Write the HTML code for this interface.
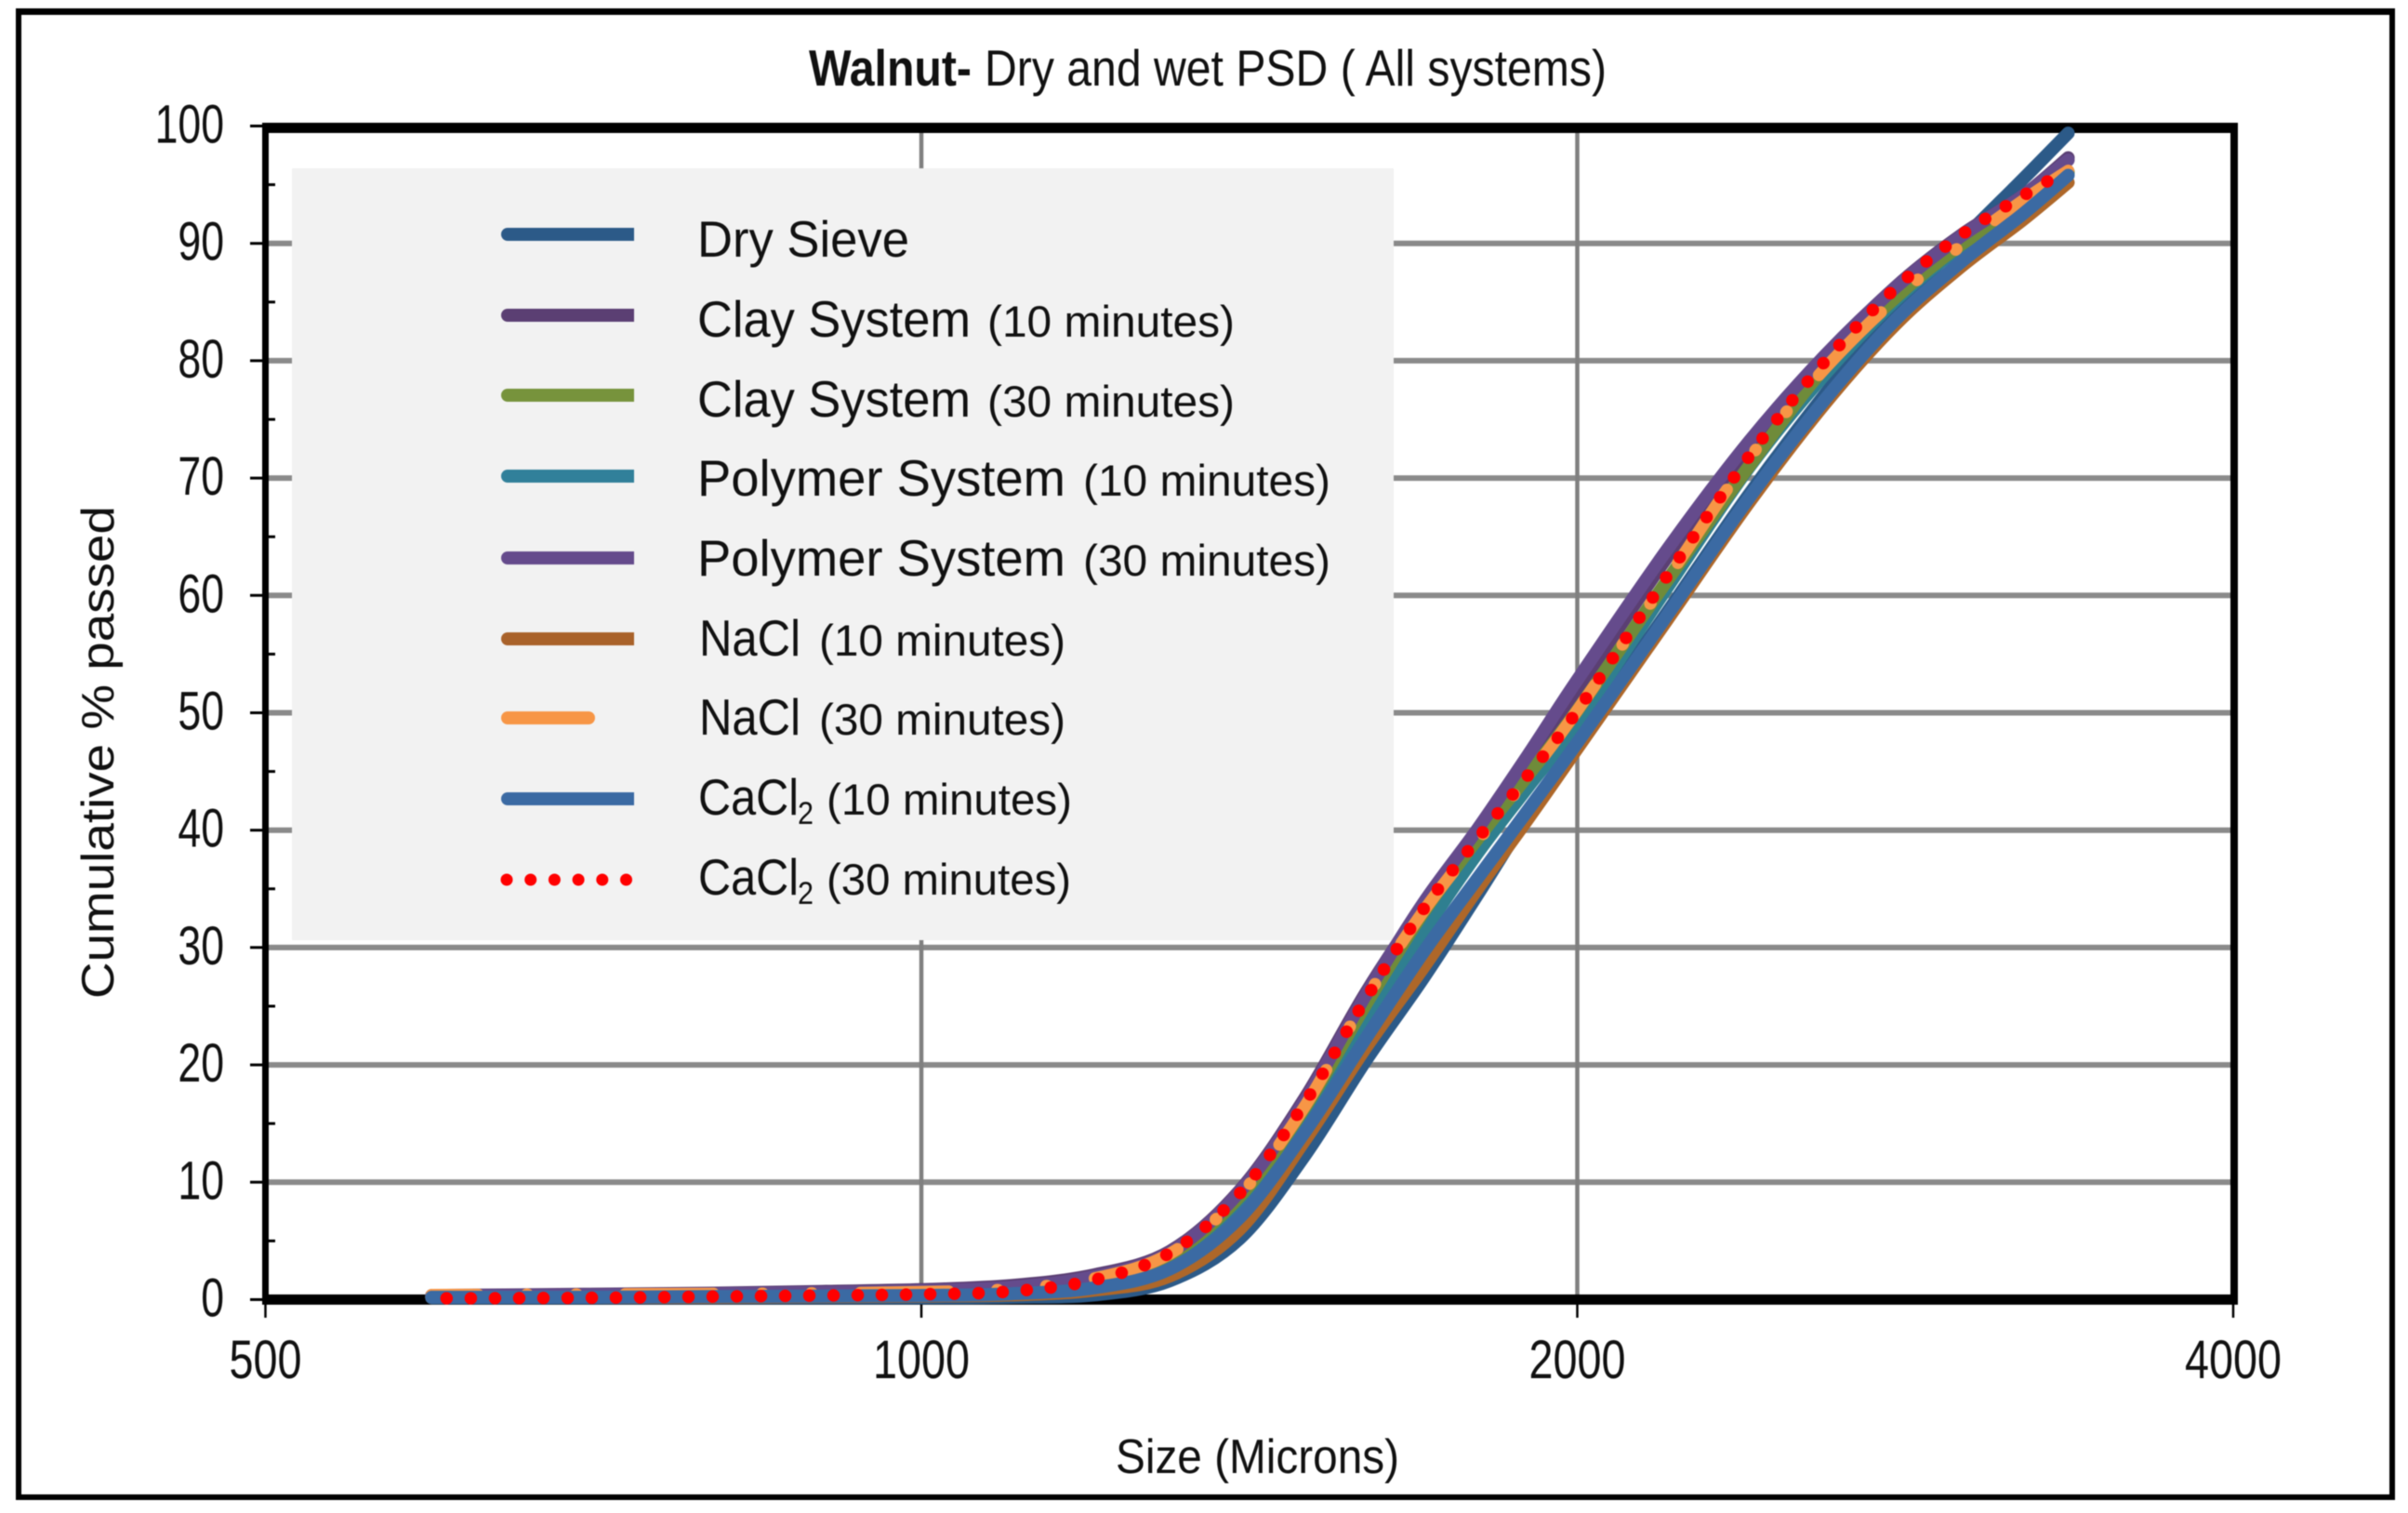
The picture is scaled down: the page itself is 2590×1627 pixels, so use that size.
<!DOCTYPE html>
<html lang="en">
<head>
<meta charset="utf-8">
<title>Walnut - Dry and wet PSD (All systems)</title>
<style>
html,body{margin:0;padding:0;background:#fff;}
body{width:2590px;height:1627px;overflow:hidden;}
svg{display:block;filter:blur(0.6px);}
text{font-family:"Liberation Sans",Arial,sans-serif;fill:#111;}
</style>
</head>
<body>
<svg id="chart" xmlns="http://www.w3.org/2000/svg" width="2590" height="1627" viewBox="0 0 2590 1627">
  <rect x="0" y="0" width="2590" height="1627" fill="#fff"/>
  <g fill="#000">
    <rect x="17" y="9" width="6" height="1604"/>
    <rect x="17" y="9" width="2559" height="7"/>
    <rect x="2570" y="9" width="6" height="1604"/>
    <rect x="17" y="1607" width="2559" height="6"/>
  </g>
  <text x="870" y="92" font-size="55" font-weight="700" textLength="175" lengthAdjust="spacingAndGlyphs">Walnut-</text>
  <text x="1059" y="92" font-size="55" textLength="669" lengthAdjust="spacingAndGlyphs">Dry and wet PSD ( All systems)</text>
  <text x="1200" y="1584" font-size="52" textLength="305" lengthAdjust="spacingAndGlyphs">Size (Microns)</text>
  <text transform="translate(122 1074) rotate(-90)" font-size="49" textLength="530" lengthAdjust="spacingAndGlyphs">Cumulative % passed</text>

  <g id="grid"></g>
  <g id="axis-frame" fill="#000">
    <rect x="282" y="132" width="7" height="1271"/>
    <rect x="2399" y="132" width="8" height="1271"/>
    <rect x="282" y="132" width="2125" height="11"/>
    <rect x="282" y="1392" width="2125" height="11"/>
  </g>
  <g id="ticks"></g>

  <g>
    <rect x="314" y="181" width="1185" height="830" fill="#f2f2f2"/>

    <path d="M546 245H682V259H546a7 7 0 0 1 0-14z" fill="#2c5a88"/>
    <text x="750" y="276" font-size="55" textLength="228" lengthAdjust="spacingAndGlyphs">Dry Sieve</text>

    <path d="M546 332H682V346H546a7 7 0 0 1 0-14z" fill="#5b3f73"/>
    <text x="750" y="362" font-size="55" textLength="294" lengthAdjust="spacingAndGlyphs">Clay System</text>
    <text x="1062" y="362" font-size="47" textLength="266" lengthAdjust="spacingAndGlyphs">(10 minutes)</text>

    <path d="M546 418H682V432H546a7 7 0 0 1 0-14z" fill="#77933c"/>
    <text x="750" y="448" font-size="55" textLength="294" lengthAdjust="spacingAndGlyphs">Clay System</text>
    <text x="1062" y="448" font-size="47" textLength="266" lengthAdjust="spacingAndGlyphs">(30 minutes)</text>

    <path d="M546 505H682V519H546a7 7 0 0 1 0-14z" fill="#31809a"/>
    <text x="750" y="533" font-size="55" textLength="396" lengthAdjust="spacingAndGlyphs">Polymer System</text>
    <text x="1165" y="533" font-size="47" textLength="266" lengthAdjust="spacingAndGlyphs">(10 minutes)</text>

    <path d="M546 593H682V607H546a7 7 0 0 1 0-14z" fill="#654b8c"/>
    <text x="750" y="619" font-size="55" textLength="396" lengthAdjust="spacingAndGlyphs">Polymer System</text>
    <text x="1165" y="619" font-size="47" textLength="266" lengthAdjust="spacingAndGlyphs">(30 minutes)</text>

    <path d="M546 680H682V694H546a7 7 0 0 1 0-14z" fill="#a9622a"/>
    <text x="752" y="705" font-size="55" textLength="109" lengthAdjust="spacingAndGlyphs">NaCl</text>
    <text x="881" y="705" font-size="47" textLength="265" lengthAdjust="spacingAndGlyphs">(10 minutes)</text>

    <path d="M546 765H633a7 7 0 0 1 0 14H546a7 7 0 0 1 0-14z" fill="#f79646"/>
    <text x="752" y="790" font-size="55" textLength="109" lengthAdjust="spacingAndGlyphs">NaCl</text>
    <text x="881" y="790" font-size="47" textLength="265" lengthAdjust="spacingAndGlyphs">(30 minutes)</text>

    <path d="M546 852H682V866H546a7 7 0 0 1 0-14z" fill="#3b6aa3"/>
    <text x="751" y="876" font-size="55" textLength="108" lengthAdjust="spacingAndGlyphs">CaCl</text>
    <text x="858" y="886" font-size="34" textLength="17" lengthAdjust="spacingAndGlyphs">2</text>
    <text x="889" y="876" font-size="47" textLength="264" lengthAdjust="spacingAndGlyphs">(10 minutes)</text>

    <line x1="545" y1="946" x2="675" y2="946" stroke="#ff0000" stroke-width="13" stroke-linecap="round" stroke-dasharray="0.01 25.69"/>
    <text x="751" y="962" font-size="55" textLength="108" lengthAdjust="spacingAndGlyphs">CaCl</text>
    <text x="858" y="972" font-size="34" textLength="17" lengthAdjust="spacingAndGlyphs">2</text>
    <text x="889" y="962" font-size="47" textLength="263" lengthAdjust="spacingAndGlyphs">(30 minutes)</text>
  </g>

  <g id="series"></g>
</svg>

<script>
// Chart data
const xTickLabels = [500, 1000, 2000, 4000];
const yTickLabels = [0, 10, 20, 30, 40, 50, 60, 70, 80, 90, 100];
const yMinorTicks = [5, 15, 25, 35, 45, 55, 65, 75, 85, 95];
const sizes     = [596, 700, 800, 900, 1000, 1100, 1200, 1300, 1400, 1500, 1600, 1700, 1800, 1900, 2000, 2200, 2400, 2600, 2800, 3000, 3200, 3360];
const drySieve  = [0.15, 0.15, 0.15, 0.15, 0.15, 0.2, 0.4, 1.6, 5.2, 12.3, 20.4, 27.4, 34.5, 41.4, 47.55, 58.6, 68.7, 77.2, 84.4, 90.2, 95.4, 99.4];
const clay10    = [0.35, 0.45, 0.55, 0.7, 0.85, 1.2, 2.1, 4.1, 9.3, 17.2, 26.2, 33.6, 39.9, 45.9, 52, 63.3, 72.85, 80.35, 86.3, 90.7, 94, 97.3];
const clay30    = [0.25, 0.3, 0.35, 0.45, 0.6, 0.9, 1.8, 3.8, 8.8, 16.4, 25.2, 33, 39.26, 44.76, 50.2, 61.3, 71.1, 79.5, 85.4, 89.9, 93.15, 96.1];
const polymer10 = [0.2, 0.25, 0.3, 0.4, 0.5, 0.75, 1.5, 3.4, 8.1, 15, 23.5, 31.3, 38.05, 43.76, 49.15, 60.7, 71, 78.9, 85.15, 89.7, 93, 96];
const polymer30 = [0.3, 0.4, 0.5, 0.6, 0.75, 1.05, 1.95, 4, 9.2, 17, 26, 33.8, 40.1, 46.5, 52.8, 63.95, 73.2, 80.5, 86.25, 90.6, 94, 97.1];
const nacl10    = [0.2, 0.2, 0.2, 0.25, 0.3, 0.4, 0.8, 2, 6, 13.6, 21.5, 28.3, 35, 41.05, 46.95, 57.95, 68, 76.4, 83.1, 88, 91.95, 95.2];
const nacl30    = [0.4, 0.45, 0.5, 0.55, 0.65, 0.9, 1.8, 3.9, 8.9, 16.5, 25.66, 33.1, 39.05, 44.65, 50.2, 61.45, 71.75, 79.4, 85.3, 89.8, 93.6, 96.2];
const cacl10    = [0.2, 0.2, 0.25, 0.3, 0.35, 0.5, 1, 2.6, 7, 14.3, 22.3, 29.6, 35.9, 41.8, 47.45, 58.35, 68.4, 76.75, 83.5, 88.4, 92.45, 95.8];
const cacl30    = [0.1, 0.15, 0.25, 0.35, 0.45, 0.7, 1.67, 3.97, 9.05, 16.8, 25.67, 33.27, 39.26, 44.76, 50.17, 61.7, 71.93, 80, 86.2, 90.7, 94, 96.3];

// Axis functions (log2 x axis, linear y axis)
function xScale(size) { return 285.5 + 705.5 * Math.log2(size / 500); }
function yScale(value) { return 1397.5 - 12.62 * value; }

const NS = 'http://www.w3.org/2000/svg';
function node(parent, tag, attrs) {
  const el = document.createElementNS(NS, tag);
  Object.keys(attrs).forEach(function (k) { el.setAttribute(k, attrs[k]); });
  parent.appendChild(el);
  return el;
}

const grid = document.getElementById('grid');
const ticks = document.getElementById('ticks');

yTickLabels.forEach(function (v) {
  const y = yScale(v);
  if (v !== 0 && v !== 100) {
    const g = node(grid, 'line', { x1: 285, x2: 2402, y1: y, y2: y, stroke: '#8a8a8a', 'stroke-width': 6 });
    
    
  }
  const t = node(ticks, 'line', { x1: 269, x2: 286, y1: y, y2: y, stroke: '#000', 'stroke-width': 3 });
  
  
  const s = String(v);
  const label = node(ticks, 'text', { x: 241, y: y + 18, 'font-size': 58, 'text-anchor': 'end', textLength: s.length * 24.8, lengthAdjust: 'spacingAndGlyphs' });
  
  
  label.textContent = s;
});

yMinorTicks.forEach(function (v) {
  const y = yScale(v);
  const t = node(ticks, 'line', { x1: 288, x2: 296, y1: y, y2: y, stroke: '#000', 'stroke-width': 3 });
  
  
});

xTickLabels.forEach(function (v) {
  const x = xScale(v);
  if (v !== 500 && v !== 4000) {
    const g = node(grid, 'line', { x1: x, x2: x, y1: 138, y2: 1397, stroke: '#808080', 'stroke-width': 4.5 });
    
    
  }
  const t = node(ticks, 'line', { x1: x, x2: x, y1: 1400, y2: 1417, stroke: '#000', 'stroke-width': 2.5 });
  
  
  const s = String(v);
  const label = node(ticks, 'text', { x: x, y: 1482, 'font-size': 58, 'text-anchor': 'middle', textLength: s.length * 26, lengthAdjust: 'spacingAndGlyphs' });
  
  
  label.textContent = s;
});

// Smooth path through the data points
function curvePath(values) {
  const pts = sizes.map(function (s, i) { return [xScale(s), yScale(values[i])]; });
  let d = 'M' + pts[0][0].toFixed(1) + ' ' + pts[0][1].toFixed(1);
  for (let i = 0; i < pts.length - 1; i++) {
    const p0 = pts[Math.max(i - 1, 0)];
    const p1 = pts[i];
    const p2 = pts[i + 1];
    const p3 = pts[Math.min(i + 2, pts.length - 1)];
    const c1x = p1[0] + (p2[0] - p0[0]) / 6;
    const c1y = p1[1] + (p2[1] - p0[1]) / 6;
    const c2x = p2[0] - (p3[0] - p1[0]) / 6;
    const c2y = p2[1] - (p3[1] - p1[1]) / 6;
    d += 'C' + c1x.toFixed(1) + ' ' + c1y.toFixed(1) + ' ' + c2x.toFixed(1) + ' ' + c2y.toFixed(1) + ' ' + p2[0].toFixed(1) + ' ' + p2[1].toFixed(1);
  }
  return d;
}

const seriesGroup = document.getElementById('series');

const lineDrySieve = node(seriesGroup, 'path', { d: curvePath(drySieve), fill: 'none', stroke: '#2c5a88', 'stroke-width': 14, 'stroke-linecap': 'round', 'stroke-linejoin': 'round' });



const lineClay10 = node(seriesGroup, 'path', { d: curvePath(clay10), fill: 'none', stroke: '#5b3f73', 'stroke-width': 14, 'stroke-linecap': 'round', 'stroke-linejoin': 'round' });



const linePolymer10 = node(seriesGroup, 'path', { d: curvePath(polymer10), fill: 'none', stroke: '#2f7f90', 'stroke-width': 14, 'stroke-linecap': 'round', 'stroke-linejoin': 'round' });



const lineClay30 = node(seriesGroup, 'path', { d: curvePath(clay30), fill: 'none', stroke: '#6f8b3a', 'stroke-width': 14, 'stroke-linecap': 'round', 'stroke-linejoin': 'round' });



const linePolymer30 = node(seriesGroup, 'path', { d: curvePath(polymer30), fill: 'none', stroke: '#654b8c', 'stroke-width': 14, 'stroke-linecap': 'round', 'stroke-linejoin': 'round' });



const lineNacl10 = node(seriesGroup, 'path', { d: curvePath(nacl10), fill: 'none', stroke: '#ae6729', 'stroke-width': 14, 'stroke-linecap': 'round', 'stroke-linejoin': 'round' });



const lineNacl30 = node(seriesGroup, 'path', { d: curvePath(nacl30), fill: 'none', stroke: '#f79646', 'stroke-width': 13, 'stroke-linecap': 'round', 'stroke-linejoin': 'round', 'stroke-dasharray': '95 52 1 52 1 52' });


lineNacl30.setAttribute('stroke-dashoffset', 95 - lineNacl30.getTotalLength());

const lineCacl10 = node(seriesGroup, 'path', { d: curvePath(cacl10), fill: 'none', stroke: '#3b6aa3', 'stroke-width': 14, 'stroke-linecap': 'round', 'stroke-linejoin': 'round' });



const lineCacl30 = node(seriesGroup, 'path', { d: curvePath(cacl30), fill: 'none', stroke: '#ff0000', 'stroke-width': 13.5, 'stroke-linecap': 'round', 'stroke-linejoin': 'round', 'stroke-dasharray': '0.01 25.99' });


lineCacl30.setAttribute('stroke-dashoffset', -lineCacl30.getTotalLength());
</script>
</body>
</html>
